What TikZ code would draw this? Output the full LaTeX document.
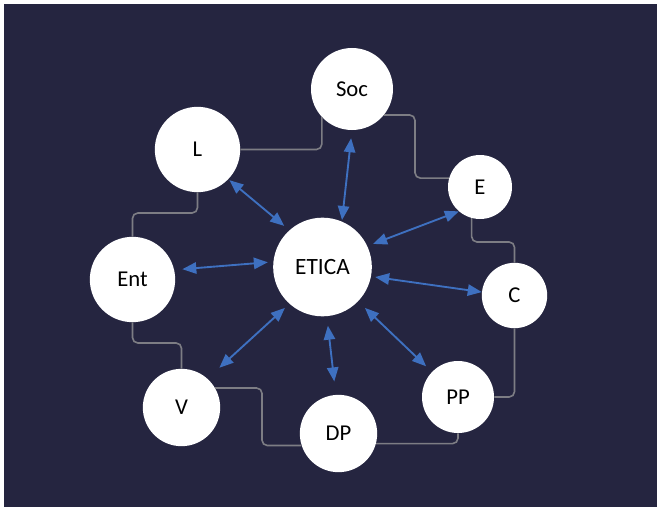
\documentclass[tikz,border=0pt]{standalone}
\usepackage{fontspec}
\setmainfont{Carlito}
\usepackage{xcolor}
\usetikzlibrary{arrows.meta}

\definecolor{navy}{RGB}{37,37,64}
\definecolor{linkgray}{RGB}{125,125,132}
\definecolor{arrowblue}{RGB}{62,112,192}

\begin{document}
\begin{tikzpicture}[x=0.75pt, y=-0.75pt]
    % Styles
    \tikzstyle{bubble} = [circle, fill=white, inner sep=0pt, text=black, font=\fontsize{17}{19}\selectfont]
    \tikzstyle{link} = [linkgray, line width=1.2pt, rounded corners=4pt]
    \tikzstyle{twoway} = [arrowblue, line width=1.4pt, {Triangle[length=10.5pt,width=8.5pt]}-{Triangle[length=10.5pt,width=8.5pt]}]

    % Background
    \useasboundingbox (0,0) rectangle (660,510);
    \fill[navy] (4,4) rectangle (657,507);

    % Nodes
    \node[bubble, minimum size=74pt, font=\fontsize{17.5}{20}\selectfont] (etica) at (322.5,267) {ETICA};
    \node[bubble, minimum size=61.5pt] (soc) at (352,89) {Soc};
    \node[bubble, minimum size=64pt] (l) at (197.5,149.5) {L};
    \node[bubble, minimum size=48pt] (e) at (480,187) {E};
    \node[bubble, minimum size=64pt] (ent) at (132.5,279.5) {Ent};
    \node[bubble, minimum size=49pt] (c) at (514.5,295.5) {C};
    \node[bubble, minimum size=54pt] (pp) at (458,397) {PP};
    \node[bubble, minimum size=58pt] (dp) at (338.5,433.5) {DP};
    \node[bubble, minimum size=58pt] (v) at (181.5,407.5) {V};

    % Links
    \coordinate (se) at (415,0);
    \coordinate (ce) at (0,242);
    \coordinate (vd) at (262,0);
    \coordinate (ev) at (0,343);
    \coordinate (le) at (0,213);
    \draw[link] (l.east) -| (soc.223);
    \draw[link] (soc.-39) -| (se |- e.164) -- (e.164);
    \draw[link] (c.north) -- (c.north |- ce) -| (e.255);
    \draw[link] (pp.east) -| (c.south);
    \draw[link] (dp.-15) -| (pp.south);
    \draw[link] (v.30) -| (vd |- dp.198) -- (dp.198);
    \draw[link] (ent.south) -- (ent.south |- ev) -| (v.north);
    \draw[link] (l.south) -- (l.south |- le) -| (ent.north);

    % Arrows
    \draw[twoway, shorten <=1pt, shorten >=5pt] (l.-44) -- (etica.132);
    \draw[twoway, shorten <=6pt, shorten >=1pt] (soc.-90) -- (etica.67);
    \draw[twoway, shorten >=4.5pt] (e.229) -- (etica.25);
    \draw[twoway, shorten <=6pt, shorten >=4pt] (ent.13) -- (etica.174);
    \draw[twoway, shorten >=3pt] (c.174) -- (etica.-11);
    \draw[twoway, shorten <=6pt, shorten >=7pt] (pp.136) -- (etica.-44);
    \draw[twoway, shorten <=10pt, shorten >=7pt] (dp.94) -- (etica.-85);
    \draw[twoway, shorten <=12pt, shorten >=4.5pt] (v.48) -- (etica.228);

\end{tikzpicture}
\end{document}
